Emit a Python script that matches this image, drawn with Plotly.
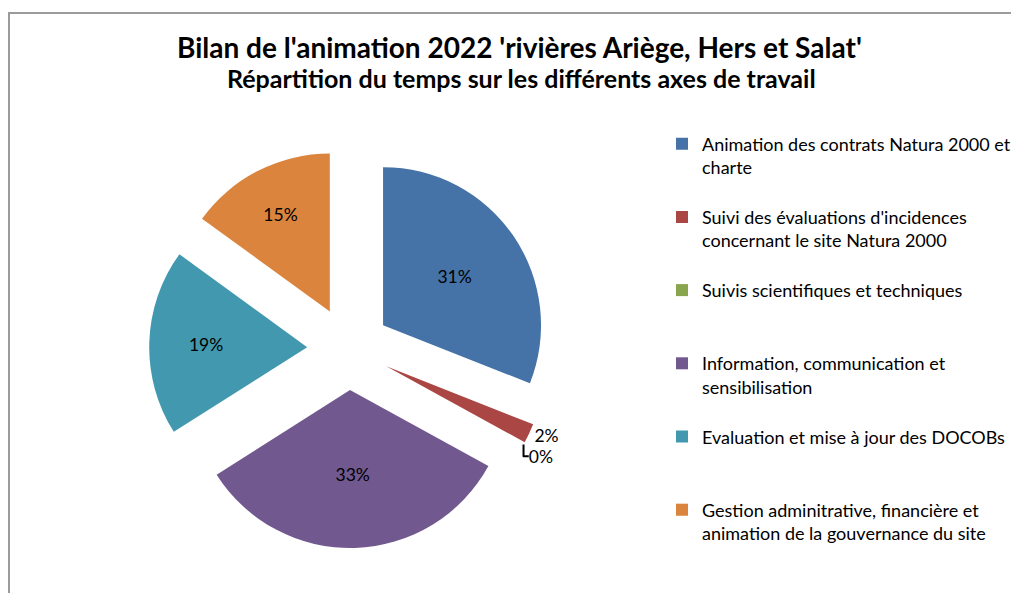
import plotly.graph_objects as go

# ---- data ----
categories = [
    "Animation des contrats Natura 2000 et<br>charte",
    "Suivi des évaluations d'incidences<br>concernant le site Natura 2000",
    "Suivis scientifiques et techniques",
    "Information, communication et<br>sensibilisation",
    "Evaluation et mise à jour des DOCOBs",
    "Gestion adminitrative, financière et<br>animation de la gouvernance du site",
]
values = [31, 2, 0, 33, 19, 15]
colors = ["#4572A7", "#AA4643", "#89A54E", "#71588F", "#4198AF", "#DB843D"]
text_positions = ["inside", "outside", "outside", "inside", "inside", "inside"]

title_line1 = "Bilan de l'animation 2022 'rivières Ariège, Hers et Salat'"
title_line2 = "Répartition du temps sur les différents axes de travail"

# pad legend entries with blank lines so every entry takes three lines,
# mimicking the evenly spaced Excel legend
pad = [1, 1, 2, 1, 2, 0]
legend_labels = [c + "<br>\u00a0" * p for c, p in zip(categories, pad)]

FONT = "Lato, 'Open Sans', sans-serif"
W, H = 1011, 585  # page has an 8px body margin


def px(x):
    return x / W


def py(y):
    return 1 - y / H


fig = go.Figure()
fig.add_trace(go.Pie(
    labels=legend_labels,
    values=values,
    sort=False,
    direction="clockwise",
    rotation=0,
    pull=0.263,
    marker=dict(colors=colors, line=dict(width=0)),
    texttemplate="%{percent:.0%}",
    textposition=text_positions,
    insidetextorientation="horizontal",
    textfont=dict(family=FONT, size=17.5, color="#000000"),
    hoverinfo="none",
    domain=dict(x=[0.13966, 0.53432], y=[0.07692, 0.75897]),
))

fig.update_layout(
    width=W,
    height=H,
    margin=dict(l=0, r=0, t=0, b=0, autoexpand=False),
    paper_bgcolor="white",
    plot_bgcolor="white",
    font=dict(family=FONT, color="#000000"),
    legend=dict(
        x=px(654),
        xanchor="left",
        y=py(117.5),
        yanchor="top",
        valign="top",
        font=dict(family=FONT, size=18, color="#000000"),
        bgcolor="rgba(0,0,0,0)",
        itemclick=False,
        itemdoubleclick=False,
    ),
    annotations=[
        dict(text=f"<b>{title_line1}</b>", x=px(511), y=py(39), xref="paper", yref="paper",
             xanchor="center", yanchor="middle", showarrow=False,
             font=dict(family=FONT, size=28, color="#000000")),
        dict(text=f"<b>{title_line2}</b>", x=px(513), y=py(70), xref="paper", yref="paper",
             xanchor="center", yanchor="middle", showarrow=False,
             font=dict(family=FONT, size=25, color="#000000")),
    ],
    shapes=[dict(
        type="rect", xref="paper", yref="paper",
        x0=px(1), x1=1.2, y0=-0.2, y1=py(5),
        line=dict(color="#9b9b9b", width=2),
        fillcolor="rgba(0,0,0,0)",
        layer="below",
    )],
)

fig.write_html("out.html")
